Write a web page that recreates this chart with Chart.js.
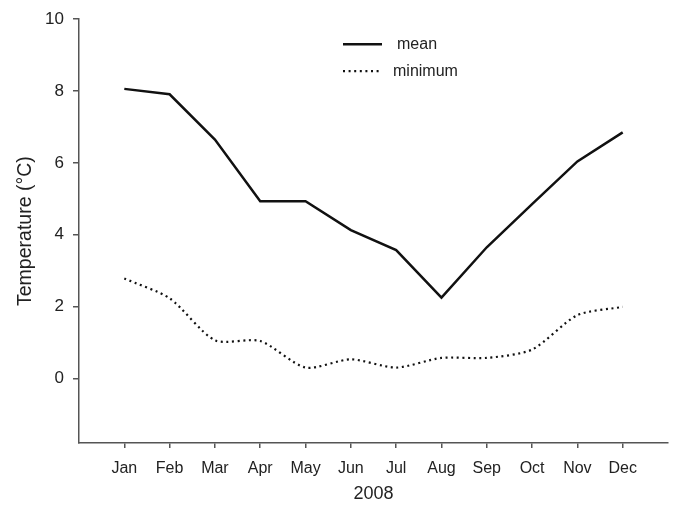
<!DOCTYPE html>
<html>
<head>
<meta charset="utf-8">
<script src="https://cdn.jsdelivr.net/npm/chart.js@4"></script>
<style>
  html, body { margin: 0; padding: 0; background: #fff; }
  #wrap { width: 674px; height: 505px; }
</style>
</head>
<body>
<div id="wrap"><canvas id="tempChart"></canvas></div>
<script>
const months = ['Jan', 'Feb', 'Mar', 'Apr', 'May', 'Jun', 'Jul', 'Aug', 'Sep', 'Oct', 'Nov', 'Dec'];
const meanTemp = [8.06, 7.91, 6.65, 4.93, 4.93, 4.13, 3.57, 2.25, 3.65, 4.85, 6.04, 6.85];
const minTemp = [2.78, 2.23, 1.06, 1.04, 0.30, 0.53, 0.30, 0.57, 0.57, 0.80, 1.76, 1.99];
const yTicks = [0, 2, 4, 6, 8, 10];

const axisColor = '#555';
const textColor = '#222';
const font = 'Liberation Sans, Arial, sans-serif';

const toPoints = (vals) => vals.map((v, i) => ({ x: i + 1, y: v }));

// legend drawn inside the plot, upper middle
const innerLegend = {
  id: 'innerLegend',
  afterDatasetsDraw(chart) {
    const { ctx, chartArea } = chart;
    const x0 = chartArea.left + 264;
    const y0 = chartArea.top + 25;
    ctx.save();
    ctx.font = '16px ' + font;
    ctx.textBaseline = 'middle';
    chart.data.datasets.forEach((ds, i) => {
      const y = y0 + i * 27;
      ctx.beginPath();
      ctx.strokeStyle = ds.borderColor;
      ctx.lineWidth = ds.borderWidth;
      ctx.setLineDash(ds.borderDash || []);
      ctx.moveTo(x0, y);
      ctx.lineTo(x0 + 39, y);
      ctx.stroke();
      ctx.setLineDash([]);
      ctx.fillStyle = textColor;
      ctx.fillText(ds.label, x0 + 50 + (i === 0 ? 4 : 0), y);
    });
    ctx.restore();
  }
};

new Chart(document.getElementById('tempChart'), {
  type: 'line',
  data: {
    datasets: [
      {
        label: 'mean',
        data: toPoints(meanTemp),
        borderColor: '#111',
        borderWidth: 2.5,
        pointRadius: 0,
        tension: 0
      },
      {
        label: 'minimum',
        data: toPoints(minTemp),
        borderColor: '#111',
        borderWidth: 2.2,
        borderDash: [2, 3.6],
        pointRadius: 0,
        tension: 0.25
      }
    ]
  },
  options: {
    responsive: true,
    maintainAspectRatio: false,
    animation: false,
    layout: { padding: { left: 0, right: 6, top: 19, bottom: 0 } },
    plugins: {
      legend: { display: false },
      tooltip: { enabled: false }
    },
    scales: {
      x: {
        type: 'linear',
        min: 0,
        max: 13,
        afterBuildTicks: (scale) => {
          scale.ticks = months.map((m, i) => ({ value: i + 1 }));
        },
        afterFit: (scale) => { scale.height = 62; },
        ticks: {
          color: textColor,
          font: { family: font, size: 16 },
          padding: 11,
          maxRotation: 0,
          callback: (v) => months[v - 1] || ''
        },
        grid: {
          drawOnChartArea: false,
          drawTicks: true,
          tickLength: 5,
          color: axisColor,
          lineWidth: 1.5
        },
        border: { display: true, color: axisColor, width: 1.5 },
        title: {
          display: true,
          text: '2008',
          color: textColor,
          font: { family: font, size: 18 },
          padding: { top: 2, bottom: 0 }
        }
      },
      y: {
        min: -1.8,
        max: 10,
        afterBuildTicks: (scale) => {
          scale.ticks = yTicks.map((v) => ({ value: v }));
        },
        afterFit: (scale) => { scale.width = 79; },
        ticks: {
          color: textColor,
          font: { family: font, size: 17 },
          padding: 9
        },
        grid: {
          drawOnChartArea: false,
          drawTicks: true,
          tickLength: 6,
          color: axisColor,
          lineWidth: 1.5
        },
        border: { display: true, color: axisColor, width: 1.5 },
        title: {
          display: true,
          text: 'Temperature (°C)',
          color: textColor,
          font: { family: font, size: 19.5 },
          padding: { top: 14, bottom: 0 }
        }
      }
    }
  },
  plugins: [innerLegend]
});
</script>
</body>
</html>
